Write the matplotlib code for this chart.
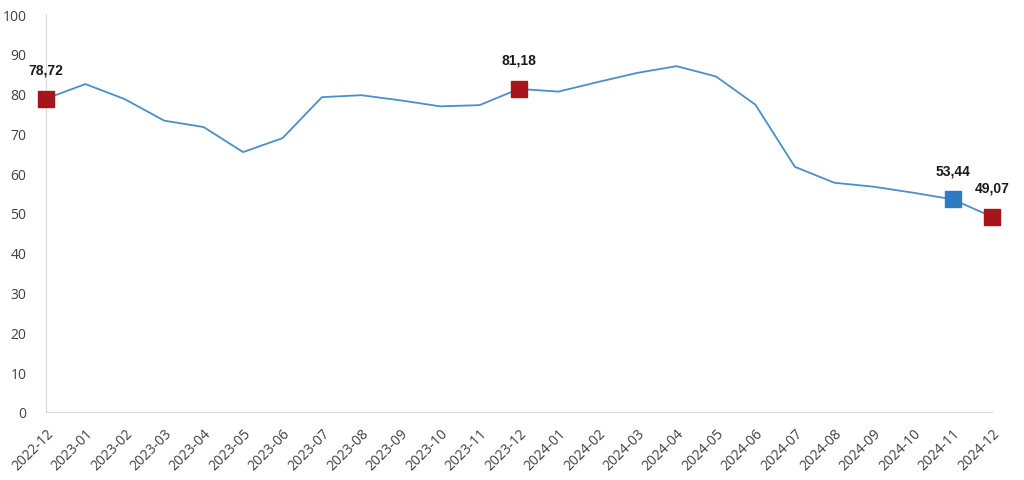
import matplotlib.pyplot as plt

months = ['2022-12', '2023-01', '2023-02', '2023-03', '2023-04', '2023-05', '2023-06',
          '2023-07', '2023-08', '2023-09', '2023-10', '2023-11', '2023-12',
          '2024-01', '2024-02', '2024-03', '2024-04', '2024-05', '2024-06',
          '2024-07', '2024-08', '2024-09', '2024-10', '2024-11', '2024-12']
values = [78.72, 82.4, 78.6, 73.2, 71.6, 65.3, 68.8,
          79.1, 79.6, 78.3, 76.8, 77.1, 81.18,
          80.5, 82.9, 85.2, 86.9, 84.3, 77.2,
          61.6, 57.6, 56.6, 55.1, 53.44, 49.07]

# highlighted points: index -> colour
highlights = {0: '#A8141C', 12: '#A8141C', 23: '#2E7BBF', 24: '#A8141C'}

fig = plt.figure(figsize=(10.24, 4.81), dpi=100)
ax = fig.add_axes([0.0449, 0.1414, 0.9238, 0.8274])

x = list(range(len(months)))
ax.plot(x, values, color='#4A90C8', linewidth=1.3, zorder=2)

for i, c in highlights.items():
    ax.plot(x[i], values[i], marker='s', markersize=12, color=c,
            markeredgecolor=c, clip_on=False, zorder=3)
    ax.annotate(('%.2f' % values[i]).replace('.', ','),
                (x[i], values[i]), xytext=(0, 21), textcoords='offset points',
                ha='center', va='center', fontsize=10, fontweight='bold',
                family='Liberation Sans', color='#1a1a1a')

ax.set_xlim(0, len(months) - 1)
ax.set_ylim(0, 100)
ax.set_yticks(range(0, 101, 10))
ax.set_xticks(x)
ax.set_xticklabels(months, rotation=45, ha='right', rotation_mode='anchor')

for lbl in ax.get_xticklabels() + ax.get_yticklabels():
    lbl.set_family('Open Sans')
    lbl.set_fontsize(10)
    lbl.set_color('#404040')

ax.tick_params(axis='y', length=0, pad=14)
ax.tick_params(axis='x', length=0, pad=10)
ax.spines['top'].set_visible(False)
ax.spines['right'].set_visible(False)
ax.spines['left'].set_color('#D9D9D9')
ax.spines['bottom'].set_color('#D9D9D9')

fig.savefig('out.png', dpi=100)
